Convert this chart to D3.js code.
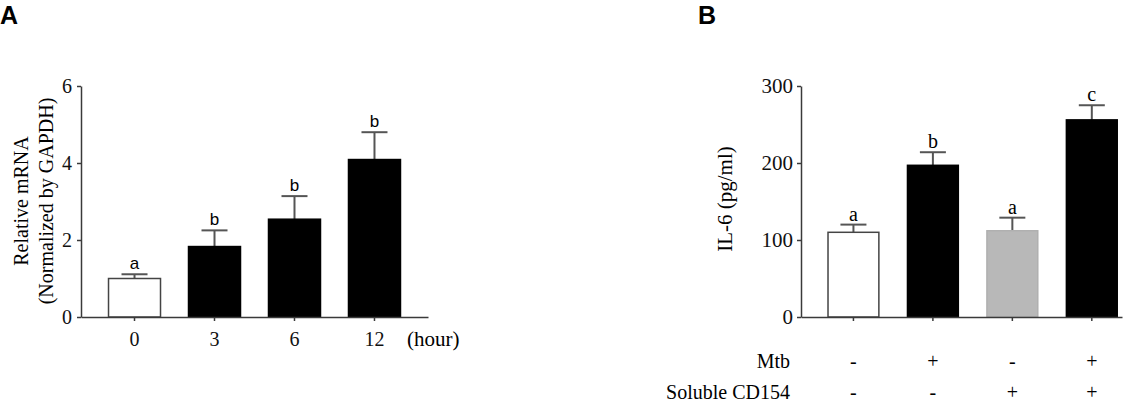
<!DOCTYPE html>
<html>
<head>
<meta charset="utf-8">
<script src="https://d3js.org/d3.v7.min.js"></script>
<style>
  body { margin: 0; background: #fff; }
  svg { display: block; }
  .serif { font-family: "Liberation Serif", "Times New Roman", serif; }
  .sans { font-family: "Liberation Sans", Arial, sans-serif; }
</style>
</head>
<body>
<svg id="fig" width="1147" height="402"></svg>
<script>
// Panel A data: relative mRNA over time
const hoursA = ["0", "3", "6", "12"];
const mrnaA = [1.0, 1.83, 2.54, 4.09];
const mrnaErrA = [0.11, 0.42, 0.60, 0.71];
const lettersA = ["a", "b", "b", "b"];
const yTicksA = [0, 2, 4, 6];

// Panel B data: IL-6 by treatment
const groupsB = ["g1", "g2", "g3", "g4"];
const mtbB = ["-", "+", "-", "+"];
const cd154B = ["-", "-", "+", "+"];
const il6B = [110, 197, 112, 256];
const il6ErrB = [10, 17, 17, 19];
const lettersB = ["a", "b", "a", "c"];
const yTicksB = [0, 100, 200, 300];

const axisColor = "#3a3a3a";
const errColor = "#555";

const svg = d3.select("#fig");

// Panel letters
svg.append("text").attr("class", "sans").attr("x", 0).attr("y", 24)
    .attr("font-size", 25).attr("font-weight", "bold").text("A");
svg.append("text").attr("class", "sans").attr("x", 698).attr("y", 24)
    .attr("font-size", 25).attr("font-weight", "bold").text("B");

function styleAxis(g) {
    g.selectAll("path, line").attr("stroke", axisColor).attr("stroke-width", 1.5);
    g.selectAll("text").attr("fill", "#111");
}

// ---------- Panel A ----------
const xA = d3.scaleBand()
    .domain(d3.range(hoursA.length))
    .range([81, 428])
    .paddingInner(0.35)
    .paddingOuter(0.344);

const yA = d3.scaleLinear().domain([0, 6]).range([317, 86]);

const colorA = d3.scaleOrdinal().domain(hoursA).range(["#fff", "#000", "#000", "#000"]);

const gA = svg.append("g");

// error bars (upward only)
gA.selectAll(".errA")
    .data(mrnaA)
    .join("g")
    .each(function(d, i) {
        const cx = xA(i) + xA.bandwidth() / 2;
        const g = d3.select(this);
        g.append("line").attr("x1", cx).attr("x2", cx)
            .attr("y1", yA(d)).attr("y2", yA(d + mrnaErrA[i]))
            .attr("stroke", errColor).attr("stroke-width", 2);
        g.append("line").attr("x1", cx - 13).attr("x2", cx + 13)
            .attr("y1", yA(d + mrnaErrA[i])).attr("y2", yA(d + mrnaErrA[i]))
            .attr("stroke", errColor).attr("stroke-width", 2);
    });

gA.selectAll("rect")
    .data(mrnaA)
    .join("rect")
    .attr("x", (d, i) => xA(i))
    .attr("y", d => yA(d))
    .attr("width", xA.bandwidth())
    .attr("height", d => yA(0) - yA(d))
    .attr("fill", (d, i) => colorA(hoursA[i]))
    .attr("stroke", (d, i) => i === 0 ? "#444" : "#000")
    .attr("stroke-width", 1.5);

gA.selectAll(".letA")
    .data(lettersA)
    .join("text")
    .attr("class", "sans")
    .attr("x", (d, i) => xA(i) + xA.bandwidth() / 2)
    .attr("y", (d, i) => yA(mrnaA[i] + mrnaErrA[i]) - 5)
    .attr("text-anchor", "middle")
    .attr("font-size", 17)
    .text(d => d);

// y axis
gA.append("g")
    .attr("transform", "translate(81,0)")
    .call(d3.axisLeft(yA).tickValues(yTicksA).tickFormat(d3.format("d"))
        .tickSize(4).tickSizeOuter(0).tickPadding(5))
    .call(styleAxis)
    .call(g => g.selectAll("text").attr("class", "serif").attr("font-size", 20));

// x axis
gA.append("g")
    .attr("transform", "translate(0,317)")
    .call(d3.axisBottom(xA).tickFormat(i => hoursA[i]).tickSize(4).tickSizeOuter(0).tickPadding(11))
    .call(styleAxis)
    .call(g => g.selectAll("text").attr("class", "serif").attr("font-size", 20));

gA.append("text").attr("class", "serif")
    .attr("x", 407).attr("y", 346).attr("font-size", 21).text("(hour)");

// y label (two lines)
const labA = gA.append("text").attr("class", "serif")
    .attr("transform", "translate(28,201) rotate(-90)")
    .attr("text-anchor", "middle")
    .attr("font-size", 20);
labA.append("tspan").attr("x", 0).attr("dy", 0).text("Relative mRNA");
labA.append("tspan").attr("x", 0).attr("dy", 25).text("(Normalized by GAPDH)");

// ---------- Panel B ----------
const xB = d3.scaleBand()
    .domain(groupsB)
    .range([801, 1122])
    .paddingInner(0.36)
    .paddingOuter(0.2)
    .align(0.85);

const yB = d3.scaleLinear().domain([0, 300]).range([317, 86]);

const colorB = d3.scaleOrdinal().domain(groupsB).range(["#fff", "#000", "#b8b8b8", "#000"]);
const strokeB = d3.scaleOrdinal().domain(groupsB).range(["#444", "#000", "#b0b0b0", "#000"]);

const gB = svg.append("g");

gB.selectAll(".errB")
    .data(il6B)
    .join("g")
    .each(function(d, i) {
        const cx = xB(groupsB[i]) + xB.bandwidth() / 2;
        const g = d3.select(this);
        g.append("line").attr("x1", cx).attr("x2", cx)
            .attr("y1", yB(d)).attr("y2", yB(d + il6ErrB[i]))
            .attr("stroke", errColor).attr("stroke-width", 2);
        g.append("line").attr("x1", cx - 13).attr("x2", cx + 13)
            .attr("y1", yB(d + il6ErrB[i])).attr("y2", yB(d + il6ErrB[i]))
            .attr("stroke", errColor).attr("stroke-width", 2);
    });

gB.selectAll("rect")
    .data(il6B)
    .join("rect")
    .attr("x", (d, i) => xB(groupsB[i]))
    .attr("y", d => yB(d))
    .attr("width", xB.bandwidth())
    .attr("height", d => yB(0) - yB(d))
    .attr("fill", (d, i) => colorB(groupsB[i]))
    .attr("stroke", (d, i) => strokeB(groupsB[i]))
    .attr("stroke-width", 1.5);

gB.selectAll(".letB")
    .data(lettersB)
    .join("text")
    .attr("class", "serif")
    .attr("x", (d, i) => xB(groupsB[i]) + xB.bandwidth() / 2)
    .attr("y", (d, i) => yB(il6B[i] + il6ErrB[i]) - 4)
    .attr("text-anchor", "middle")
    .attr("font-size", 20)
    .text(d => d);

gB.append("g")
    .attr("transform", "translate(801,0)")
    .call(d3.axisLeft(yB).tickValues(yTicksB).tickSize(4).tickSizeOuter(0).tickPadding(4))
    .call(styleAxis)
    .call(g => g.selectAll("text").attr("class", "serif").attr("font-size", 21));

gB.append("g")
    .attr("transform", "translate(0,317)")
    .call(d3.axisBottom(xB).tickFormat("").tickSize(4).tickSizeOuter(0))
    .call(styleAxis);

gB.append("text").attr("class", "serif")
    .attr("transform", "translate(732,199) rotate(-90)")
    .attr("text-anchor", "middle")
    .attr("font-size", 21)
    .text("IL-6 (pg/ml)");

// treatment rows
const rows = [["Mtb", mtbB, 368], ["Soluble CD154", cd154B, 399]];
rows.forEach(([name, signs, y]) => {
    gB.append("text").attr("class", "serif")
        .attr("x", 790).attr("y", y)
        .attr("text-anchor", "end").attr("font-size", 20)
        .text(name);
    gB.selectAll(null)
        .data(signs)
        .join("text")
        .attr("class", "serif")
        .attr("x", (d, i) => xB(groupsB[i]) + xB.bandwidth() / 2)
        .attr("y", y)
        .attr("text-anchor", "middle")
        .attr("font-size", 20)
        .text(d => d);
});
</script>
</body>
</html>
